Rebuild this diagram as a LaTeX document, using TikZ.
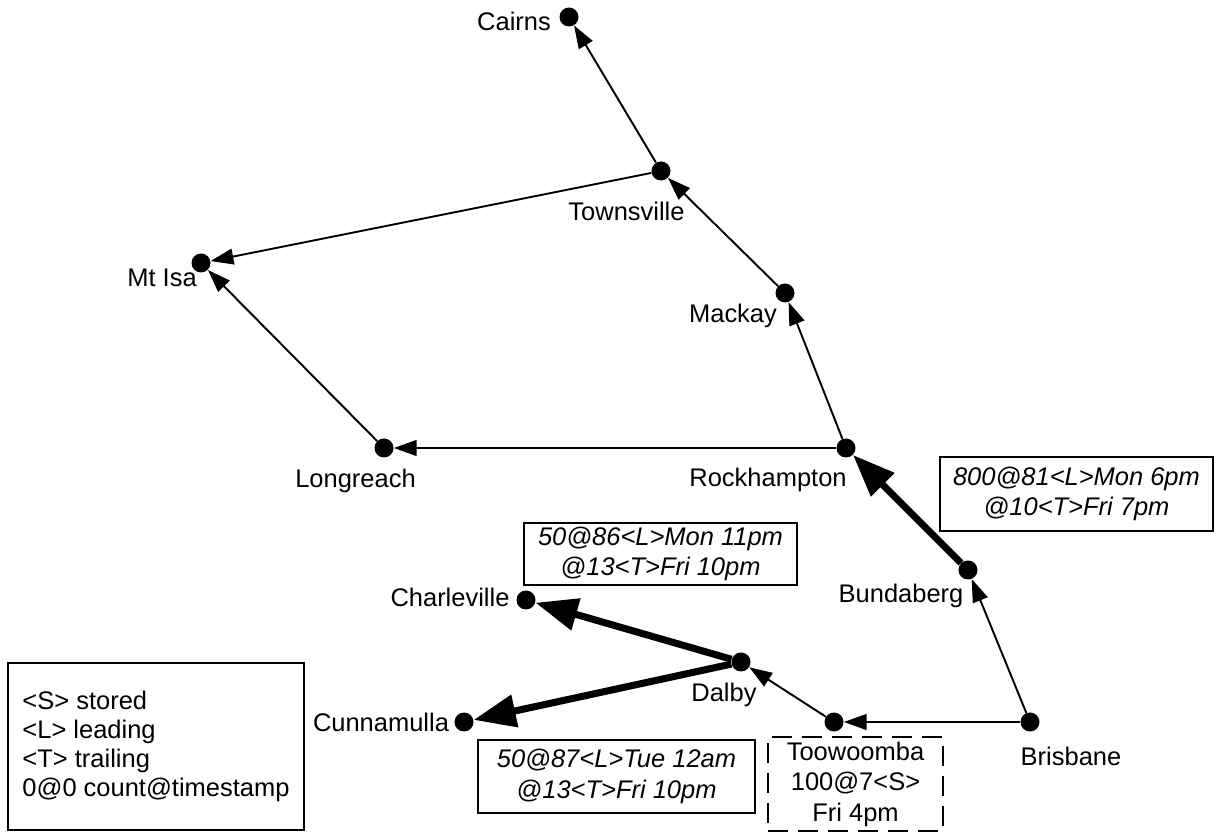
\documentclass[tikz,border=0pt]{standalone}
\usepackage{fontspec}
\setmainfont{Liberation Sans}
\usetikzlibrary{arrows.meta,positioning}

\tikzset{
	city/.style={circle,fill=black,inner sep=0pt,minimum size=0.38cm},
	lbl/.style={inner sep=0pt,anchor=base,font=\fontsize{14.5}{17.5}\selectfont},
	road/.style={-{Triangle[length=13pt,width=9pt]},line width=1.1pt},
	busy/.style={-{Triangle[length=24pt,width=18pt]},line width=4pt},
	infobox/.style={draw,line width=0.8pt,align=center,inner sep=0pt,font=\fontsize{14.5}{17.5}\selectfont\itshape},
}

\begin{document}
\begin{tikzpicture}
	\useasboundingbox (0,0) rectangle (24.36,-16.64);
	% cities
	\node[city] (cns) at (11.38,-0.34) {};
	\node[city] (twn) at (13.22,-3.42) {};
	\node[city] (isa) at (4.02,-5.26) {};
	\node[city] (mky) at (15.70,-5.86) {};
	\node[city] (lgr) at (7.68,-8.96) {};
	\node[city] (rok) at (16.92,-8.96) {};
	\node[city] (bun) at (19.36,-11.40) {};
	\node[city] (chv) at (10.52,-12.00) {};
	\node[city] (dal) at (14.82,-13.24) {};
	\node[city] (cun) at (9.28,-14.44) {};
	\node[city] (too) at (16.68,-14.44) {};
	\node[city] (bri) at (20.60,-14.44) {};
	% names
	\node[lbl] (cnsT) at (10.28,-0.62) {Cairns};
	\node[lbl] (twnT) at (12.53,-4.42) {Townsville};
	\node[lbl] (isaT) at (3.24,-5.74) {Mt Isa};
	\node[lbl] (mkyT) at (14.66,-6.46) {Mackay};
	\node[lbl] (lgrT) at (7.11,-9.76) {Longreach};
	\node[lbl] (rokT) at (15.36,-9.74) {Rockhampton};
	\node[lbl] (bunT) at (18.02,-12.06) {Bundaberg};
	\node[lbl] (chvT) at (9.00,-12.14) {Charleville};
	\node[lbl] (dalT) at (14.48,-14.04) {Dalby};
	\node[lbl] (cunT) at (7.62,-14.64) {Cunnamulla};
	\node[lbl] (briT) at (21.42,-15.30) {Brisbane};
	% routes
	\draw[road] (bri) -- (too);
	\draw[road] (bri) -- (bun);
	\draw[road] (too) -- (dal);
	\draw[busy] (dal) -- (chv);
	\draw[busy] (dal) -- (cun);
	\draw[busy] (bun) -- (rok);
	\draw[road] (rok) -- (lgr);
	\draw[road] (rok) -- (mky);
	\draw[road] (mky) -- (twn);
	\draw[road] (twn) -- (cns);
	\draw[road] (twn) -- (isa);
	\draw[road] (lgr) -- (isa);
	% counts
	\node[infobox,minimum width=5.46cm,minimum height=1.48cm] (bunInfo) at (21.53,-9.88)
		{800@81<L>Mon 6pm\\@10<T>Fri 7pm};
	\node[infobox,minimum width=5.46cm,minimum height=1.24cm] (chvInfo) at (13.21,-11.08)
		{50@86<L>Mon 11pm\\@13<T>Fri 10pm};
	\node[infobox,minimum width=5.54cm,minimum height=1.46cm] (cunInfo) at (12.33,-15.53)
		{50@87<L>Tue 12am\\@13<T>Fri 10pm};
	\node[infobox,font=\fontsize{14.5}{17.4}\selectfont,line width=1.1pt,dash pattern=on 0.4cm off 0.2cm,
		minimum width=3.5cm,minimum height=1.88cm] (tooInfo) at (17.11,-15.68)
		{Toowoomba\\100@7<S>\\Fri 4pm};
	% key
	\node[infobox,font=\fontsize{14.5}{16.6}\selectfont,align=left,
		minimum width=5.92cm,minimum height=3.34cm] (key) at (3.12,-14.93)
		{<S> stored\\<L> leading\\<T> trailing\\0@0 count@timestamp};
\end{tikzpicture}
\end{document}
